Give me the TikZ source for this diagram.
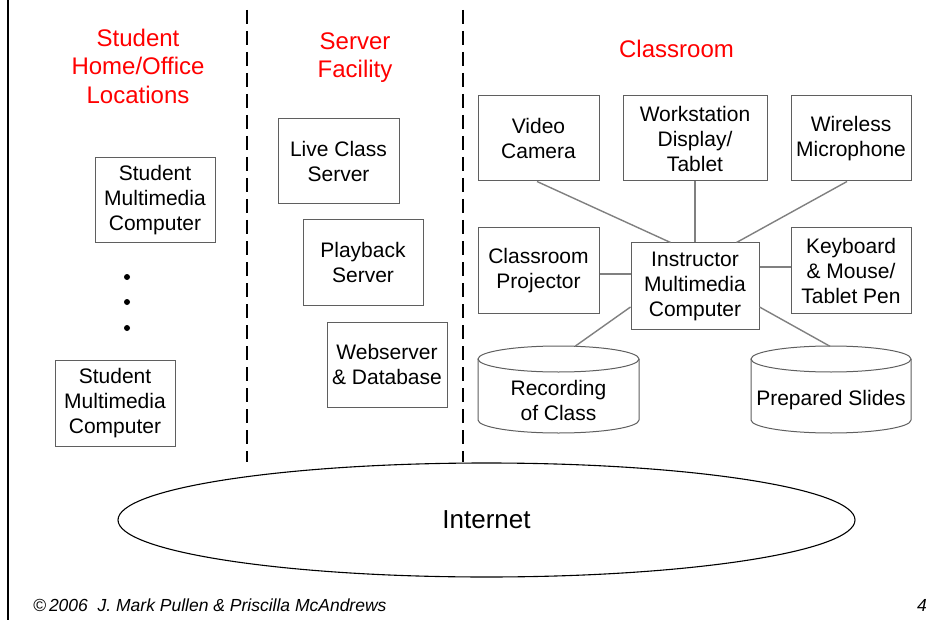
\documentclass[tikz,border=0pt]{standalone}
\usepackage{fontspec}
\setmainfont{Liberation Sans}
\usetikzlibrary{shapes.geometric,backgrounds}
\definecolor{boxgray}{RGB}{95,95,95}
\definecolor{linkgray}{RGB}{128,128,128}
\begin{document}
\begin{tikzpicture}[x=1pt,y=-1pt,
  box/.style={draw=boxgray, line width=1pt, inner sep=0pt, align=center,
              font=\fontsize{21}{25}\selectfont},
  cyl/.style={draw=boxgray, line width=1pt},
  cyltext/.style={inner sep=0pt, align=center, font=\fontsize{21}{25}\selectfont},
  link/.style={draw=linkgray, line width=1.4pt},
  hdr/.style={text=red, align=center, inner sep=0pt, font=\fontsize{24}{28.5}\selectfont},
  zone/.style={line width=2pt, dash pattern=on 14pt off 7pt},
]
\fill[white] (0,0) rectangle (952,620);
\useasboundingbox (0,0) rectangle (952,620);

% slide border
\draw[line width=2.5pt] (8,0) -- (8,620);

% zone separators
\coordinate (d1t) at (247,10); \coordinate (d1b) at (247,462);
\coordinate (d2t) at (463,10); \coordinate (d2b) at (463,462);
\draw[zone] (d1t) -- (d1b);
\draw[zone] (d2t) -- (d2b);

% headers
\node[hdr] (h1) at (138,66) {Student\\Home/Office\\Locations};
\node[hdr] (h2) at (355,57.5) {Server\\Facility};
\node[hdr] (h3) at (676.5,49) {Classroom};

% student side
\node[box, minimum width=120, minimum height=85] (s1) at (155,200.5) {Student\\Multimedia\\Computer};
\node[box, minimum width=120, minimum height=86] (s2) at (115,403) {Student\\Multimedia\\Computer};
\fill (127,277) circle[radius=3];
\fill (127,302) circle[radius=3];
\fill (127,328) circle[radius=3];

% servers
\node[box, minimum width=121, minimum height=85] (live) at (338.5,161.5) {Live Class\\Server};
\node[box, minimum width=120, minimum height=85] (play) at (363,262.5) {Playback\\Server};
\node[box, minimum width=120, minimum height=85] (web) at (387,364.5) {Webserver\\\& Database};

% classroom
\node[box, minimum width=121, minimum height=85] (vc) at (538.5,138.5) {Video\\Camera};
\node[box, minimum width=144, minimum height=85] (ws) at (695,138.5) {Workstation\\Display/\\Tablet};
\node[box, minimum width=120, minimum height=85] (wm) at (851,138.5) {Wireless\\Microphone};
\node[box, minimum width=121, minimum height=85] (proj) at (538.5,270.5) {Classroom\\Projector};
\node[box, minimum width=128, minimum height=86] (inst) at (695,286) {Instructor\\Multimedia\\Computer};
\node[box, minimum width=120, minimum height=85] (kb) at (851,270.5) {Keyboard\\\& Mouse/\\Tablet Pen};

% cylinders
\draw[cyl] (558.5,359) ellipse[x radius=80.5, y radius=13];
\draw[cyl] (478,359) -- (478,420) arc[start angle=180, end angle=0, x radius=80.5, y radius=13] -- (639,359);
\node[cyltext] (rec) at (558.5,400) {Recording\\of Class};
\coordinate (rectop) at (575,346.3);

\draw[cyl] (831,359) ellipse[x radius=80, y radius=13];
\draw[cyl] (751,359) -- (751,420) arc[start angle=180, end angle=0, x radius=80, y radius=13] -- (911,359);
\node[cyltext] (slides) at (831,400) {Prepared Slides};
\coordinate (slidestop) at (830,346.3);

% classroom connectors
\draw[link] ([xshift=-1.5pt]vc.south) -- ([xshift=40pt]inst.north west);
\draw[link] (ws.south) -- (inst.north);
\draw[link] ([xshift=-4pt]wm.south) -- ([xshift=-23pt]inst.north east);
\draw[link] ([yshift=-3.5pt]proj.east) -- ([yshift=-3.5pt]proj.east -| inst.west);
\draw[link] ([yshift=3.5pt]kb.west) -- ([yshift=3.5pt]kb.west -| inst.east);
\draw[link] ([yshift=-21pt]inst.west) -- (rectop);
\draw[link] ([yshift=-21pt]inst.east) -- (slidestop);

% internet
\node[draw, ellipse, minimum width=737, minimum height=114, inner sep=0pt,
      line width=1.1pt, fill=white, font=\fontsize{26}{30}\selectfont] (net) at (486.5,520) {Internet};

\coordinate (webend) at (343,462);
\begin{scope}[on background layer]
\draw[link] ([xshift=36pt]s2.south west) -- ([xshift=36pt]s2.south west |- net.center);
\draw[link] ([xshift=105pt]s1.south west) -- ([xshift=105pt]s1.south west |- net.center);
\draw[link] ([xshift=9pt]live.south west) -- ([xshift=9pt]live.south west |- net.center);
\draw[link] ([xshift=8pt]play.south west) -- ([xshift=8pt]play.south west |- net.center);
\draw[link] ([xshift=16pt]web.south west) -- (webend);
\draw[link] (inst.south) -- (inst.south |- net.center);
\end{scope}

% footer
\node[anchor=base west, inner sep=0pt, font=\fontsize{17.5}{20}\selectfont\itshape] (foot) at (33,611)
  {©\,2006\ \ J. Mark Pullen \& Priscilla McAndrews};
\node[anchor=base east, inner sep=0pt, font=\fontsize{17.5}{20}\selectfont\itshape] (pg) at (927,611) {4};
\end{tikzpicture}
\end{document}
